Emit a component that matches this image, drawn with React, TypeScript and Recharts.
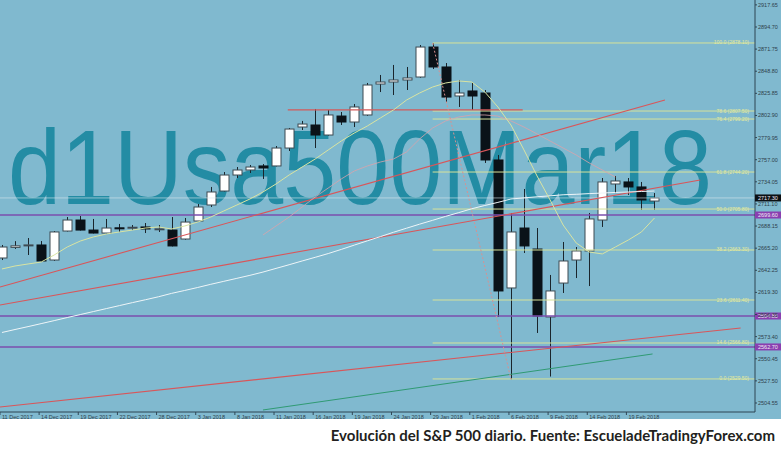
import React from 'react';
import { ComposedChart, Bar, Line, XAxis, YAxis, ReferenceLine, ReferenceDot } from 'recharts';

// daily bars, Usa500Mar18
const dates = [
  '11 Dec 2017', '12 Dec 2017', '13 Dec 2017', '14 Dec 2017', '15 Dec 2017', '18 Dec 2017', '19 Dec 2017',
  '20 Dec 2017', '21 Dec 2017', '22 Dec 2017', '26 Dec 2017', '27 Dec 2017', '28 Dec 2017', '29 Dec 2017',
  '2 Jan 2018', '3 Jan 2018', '4 Jan 2018', '5 Jan 2018', '8 Jan 2018', '9 Jan 2018', '10 Jan 2018',
  '11 Jan 2018', '12 Jan 2018', '15 Jan 2018', '16 Jan 2018', '17 Jan 2018', '18 Jan 2018', '19 Jan 2018',
  '22 Jan 2018', '23 Jan 2018', '24 Jan 2018', '25 Jan 2018', '26 Jan 2018', '29 Jan 2018', '30 Jan 2018',
  '31 Jan 2018', '1 Feb 2018', '2 Feb 2018', '5 Feb 2018', '6 Feb 2018', '7 Feb 2018', '8 Feb 2018',
  '9 Feb 2018', '12 Feb 2018', '13 Feb 2018', '14 Feb 2018', '15 Feb 2018', '16 Feb 2018', '19 Feb 2018',
  '20 Feb 2018', '21 Feb 2018',
];
const opens = [
  2655.0, 2666.0, 2668.2, 2668.5, 2652.9, 2683.0, 2694.4, 2684.0, 2680.9, 2686.3, 2686.5, 2687.2, 2685.0,
  2684.0, 2674.7, 2693.4, 2710.0, 2724.5, 2741.1, 2746.3, 2750.5, 2750.5, 2769.1, 2790.9, 2793.0, 2782.6,
  2802.3, 2796.1, 2803.4, 2835.5, 2837.6, 2839.7, 2842.8, 2873.9, 2853.2, 2823.1, 2828.3, 2826.2, 2756.7,
  2623.9, 2686.1, 2664.3, 2593.8, 2629.0, 2652.9, 2662.3, 2694.4, 2731.8, 2733.9, 2728.7, 2714.1,
];
const highs = [
  2668.5, 2672.5, 2675.7, 2672.6, 2683.0, 2697.5, 2698.6, 2695.5, 2695.5, 2690.3, 2689.2, 2691.3, 2689.2,
  2697.5, 2696.5, 2711.0, 2728.7, 2744.2, 2749.4, 2751.5, 2752.5, 2771.2, 2789.9, 2797.2, 2809.6, 2808.6,
  2806.5, 2814.8, 2836.6, 2844.9, 2855.3, 2853.2, 2876.0, 2878.1, 2857.3, 2839.7, 2837.6, 2829.3, 2761.9,
  2701.7, 2726.6, 2686.1, 2637.4, 2671.6, 2666.4, 2701.7, 2738.0, 2740.1, 2738.0, 2733.9, 2722.4,
];
const lows = [
  2652.9, 2664.4, 2658.1, 2651.0, 2652.0, 2682.5, 2683.5, 2680.5, 2680.5, 2682.0, 2684.0, 2680.9, 2682.0,
  2667.0, 2674.0, 2692.5, 2707.9, 2724.0, 2738.0, 2743.2, 2737.0, 2750.0, 2766.0, 2787.8, 2769.1, 2782.0,
  2793.0, 2790.9, 2802.5, 2827.2, 2824.1, 2829.3, 2842.0, 2851.1, 2816.9, 2811.7, 2808.6, 2753.6, 2593.8,
  2529.2, 2660.2, 2577.2, 2532.0, 2618.7, 2634.2, 2625.9, 2687.2, 2722.4, 2720.4, 2704.8, 2704.8,
];
const closes = [
  2666.4, 2667.6, 2668.6, 2651.9, 2682.0, 2694.4, 2684.0, 2680.9, 2686.1, 2686.0, 2686.9, 2685.1, 2685.3,
  2667.5, 2692.3, 2707.9, 2723.5, 2741.1, 2746.3, 2749.4, 2748.4, 2769.1, 2788.8, 2794.0, 2782.6, 2803.4,
  2796.1, 2811.7, 2834.5, 2837.6, 2839.7, 2841.8, 2873.9, 2853.2, 2822.0, 2826.2, 2823.1, 2756.7, 2620.8,
  2682.0, 2667.5, 2594.8, 2620.8, 2651.9, 2662.3, 2695.5, 2733.9, 2734.9, 2728.7, 2715.2, 2717.3,
];
// moving averages
const maFast = [
  2643.6, 2646.7, 2648.8, 2650.8, 2658.1, 2666.4, 2672.6, 2676.8, 2679.9, 2682.0, 2684.0, 2686.1, 2687.2,
  2685.1, 2688.2, 2692.3, 2697.5, 2703.8, 2710.0, 2716.2, 2723.5, 2731.8, 2741.1, 2749.4, 2757.7, 2767.1,
  2776.4, 2784.7, 2792.0, 2800.3, 2808.6, 2818.9, 2826.2, 2832.4, 2836.6, 2838.7, 2837.6, 2827.2, 2811.7,
  2793.0, 2767.1, 2740.1, 2715.2, 2689.2, 2670.6, 2661.2, 2659.2, 2666.4, 2673.7, 2682.0, 2696.5,
];
const maSlow = [
  2577.7, 2580.8, 2583.8, 2586.9, 2590.0, 2593.2, 2596.3, 2599.4, 2602.5, 2605.6, 2608.7, 2611.7, 2614.8,
  2618.3, 2621.3, 2624.4, 2627.7, 2630.8, 2633.9, 2637.0, 2640.4, 2644.2, 2648.0, 2651.9, 2655.7, 2659.6,
  2663.9, 2668.4, 2672.8, 2677.2, 2681.7, 2685.9, 2690.1, 2694.1, 2698.2, 2702.1, 2706.1, 2709.5, 2712.7,
  2716.2, 2717.4, 2718.5, 2719.5, 2720.6, 2721.1, 2721.8, 2722.4, 2723.0, 2723.5, 2724.0, 2724.5,
];
const maPink = [
  null, null, null, null, null, null, null, null, null, null, null, null, null, null, null, null, null,
  null, null, null, 2678.9, 2688.2, 2697.5, 2707.9, 2718.3, 2727.6, 2737.0, 2745.3, 2750.5, 2754.6, 2757.7,
  2765.0, 2778.5, 2789.9, 2797.2, 2801.3, 2803.4, 2803.4, 2802.3, 2797.2, 2790.9, 2783.7, 2776.4, 2769.1,
  2761.9, 2753.6, 2746.3, 2739.1, null, null, null,
];

const yTicks = [
  2504.55, 2527.5, 2550.45, 2573.4, 2596.35, 2619.3, 2642.25, 2665.2, 2688.15, 2711.1, 2734.05, 2757.0,
  2779.95, 2802.9, 2825.85, 2848.8, 2871.75, 2894.7, 2917.65,
];
const xTicks = [0, 3, 6, 9, 12, 15, 18, 21, 24, 27, 30, 33, 36, 39, 42, 45, 48];

const fibNames = ['100.0', '78.6', '76.4', '61.8', '50.0', '38.2', '23.6', '14.6', '0.0'];
const fibPrices = [2878.1, 2807.5, 2799.2, 2744.2, 2705.8, 2663.3, 2611.4, 2566.8, 2529.5];
const purpleLevels = [2699.6, 2594.8, 2562.7];
const bidPrice = 2717.3;

const X_MIN = -0.15;
const X_MAX = 57.7;
const Y_MIN = 2495.2;
const Y_MAX = 2922.7;

const chartData = dates.map((d, i) => ({
  i,
  date: d,
  open: opens[i],
  high: highs[i],
  low: lows[i],
  close: closes[i],
  range: [lows[i], highs[i]],
  maFast: maFast[i],
  maSlow: maSlow[i],
  maPink: maPink[i],
}));

const Candle = (props: any) => {
  const { x, y, width, height, payload } = props;
  if (!payload || height == null) return null;
  const { open, close, high, low } = payload;
  const top = Math.min(y, y + height);
  const h = Math.abs(height);
  const k = h / (high - low);
  const py = (p: number) => top + (high - p) * k;
  const cx = Math.round(x + width / 2) + 0.5;
  const up = close >= open;
  const bTop = py(Math.max(open, close));
  const bBot = py(Math.min(open, close));
  return (
    <g>
      <line x1={cx} x2={cx} y1={top} y2={top + h} stroke="#1a252c" strokeWidth={1} />
      <rect
        x={cx - 4.5}
        y={bTop}
        width={9}
        height={Math.max(bBot - bTop, 1)}
        fill={up ? '#ffffff' : '#0a1218'}
        stroke={up ? '#3d4a52' : '#0a1218'}
        strokeWidth={1}
      />
    </g>
  );
};

const YTick = (props: any) => {
  const { x, y, payload } = props;
  return (
    <g>
      <line x1={x} x2={x + 2} y1={y} y2={y} stroke="#2f4756" />
      <text x={x + 3} y={y + 2} fontSize={5.5} fill="#2e3f4a" fontFamily="Liberation Sans, Arial">
        {payload.value.toFixed(2)}
      </text>
    </g>
  );
};

const XTick = (props: any) => {
  const { x, y, payload } = props;
  return (
    <g>
      <line x1={x - 2} x2={x - 2} y1={y} y2={y + 3} stroke="#2f4756" />
      <text x={x} y={y + 7} fontSize={5.5} fill="#2e3f4a" fontFamily="Liberation Sans, Arial">
        {dates[payload.value]}
      </text>
    </g>
  );
};

const AxisBox = ({ cx, cy, fill, label }: any) => (
  <g>
    <rect x={cx} y={cy - 3.5} width={26} height={7} fill={fill} />
    <text x={cx + 3} y={cy + 2} fontSize={5.5} fill="#f0eaf5" fontFamily="Liberation Sans, Arial">
      {label}
    </text>
  </g>
);

export default function App() {
  return (
    <div style={{ position: 'absolute', left: 0, top: 0, width: 781, height: 455, background: '#ffffff' }}>
      <div style={{ position: 'absolute', left: 0, top: 0, width: 781, height: 419, background: '#80b9cf' }} />
      <svg width={781} height={419} style={{ position: 'absolute', left: 0, top: 0 }}>
        <text
          x={8}
          y={204}
          fontSize={105}
          fill="#238ca4"
          fontFamily="Liberation Sans, Arial, sans-serif"
          textLength={704}
          lengthAdjust="spacingAndGlyphs"
        >
          d1Usa500Mar18
        </text>
      </svg>
      <div style={{ position: 'absolute', left: 0, top: 0 }}>
        <ComposedChart width={781} height={420} data={chartData} margin={{ top: 0, right: 0, left: 0, bottom: 0 }}>
          <XAxis
            dataKey="i"
            type="number"
            domain={[X_MIN, X_MAX]}
            ticks={xTicks}
            allowDataOverflow
            height={8}
            tickSize={0}
            tickMargin={0}
            tickLine={false}
            axisLine={{ stroke: '#2c4553' }}
            tick={<XTick />}
            interval={0}
          />
          <YAxis
            orientation="right"
            type="number"
            domain={[Y_MIN, Y_MAX]}
            ticks={yTicks}
            allowDataOverflow
            width={26}
            tickSize={0}
            tickMargin={0}
            tickLine={false}
            axisLine={{ stroke: '#2c4553' }}
            tick={<YTick />}
            interval={0}
          />

          {/* horizontal levels */}
          {purpleLevels.map((p, k) => (
            <ReferenceLine key={`pl-${k}`} y={p} stroke="#7b4fae" strokeWidth={1.6} ifOverflow="hidden" />
          ))}
          <ReferenceLine y={bidPrice} stroke="#d8e6ee" strokeWidth={0.6} ifOverflow="hidden" />
          {fibPrices.map((p, k) => (
            <ReferenceLine
              key={`fib-${k}`}
              segment={[{ x: 33, y: p }, { x: X_MAX, y: p }]}
              stroke="#d6e29a"
              strokeWidth={1}
              ifOverflow="hidden"
            />
          ))}
          <ReferenceLine
            segment={[{ x: 21.9, y: 2808.6 }, { x: 39.9, y: 2808.6 }]}
            stroke="#d45a5a"
            strokeWidth={1.2}
            ifOverflow="hidden"
          />

          {/* trend lines */}
          <ReferenceLine segment={[{ x: X_MIN, y: 2624.9 }, { x: 50.8, y: 2818.9 }]} stroke="#d8565a" strokeWidth={1.1} ifOverflow="hidden" />
          <ReferenceLine segment={[{ x: X_MIN, y: 2606.2 }, { x: 53.5, y: 2735.9 }]} stroke="#d8565a" strokeWidth={1.1} ifOverflow="hidden" />
          <ReferenceLine segment={[{ x: X_MIN, y: 2500.4 }, { x: 56.6, y: 2582.4 }]} stroke="#d8565a" strokeWidth={1.1} ifOverflow="hidden" />
          <ReferenceLine segment={[{ x: 20, y: 2497.3 }, { x: 49.85, y: 2555.4 }]} stroke="#2f9a73" strokeWidth={1} ifOverflow="hidden" />
          <ReferenceLine segment={[{ x: 33, y: 2878.1 }, { x: 39, y: 2529.2 }]} stroke="#d99090" strokeWidth={1} strokeDasharray="2 2" ifOverflow="hidden" />

          <Line dataKey="maPink" stroke="#d9a3ab" strokeWidth={1} dot={false} activeDot={false} isAnimationActive={false} connectNulls={false} strokeOpacity={0.8} />
          <Line dataKey="maSlow" stroke="#eef5f8" strokeWidth={1} dot={false} activeDot={false} isAnimationActive={false} />
          <Line dataKey="maFast" stroke="#d9e4a2" strokeWidth={1} dot={false} activeDot={false} isAnimationActive={false} />

          <Bar dataKey="range" barSize={9} shape={<Candle />} activeBar={false} isAnimationActive={false} />

          {fibPrices.map((p, k) => (
            <ReferenceDot
              key={`fibl-${k}`}
              x={X_MAX}
              y={p}
              r={0}
              ifOverflow="visible"
              shape={(s: any) => (
                <text x={s.cx - 6} y={s.cy + 1.5} textAnchor="end" fontSize={5} fill="#e4ea9c" fontFamily="Liberation Sans, Arial">
                  {`${fibNames[k]} (${p.toFixed(2)})`}
                </text>
              )}
            />
          ))}
          {purpleLevels.map((p, k) => (
            <ReferenceDot
              key={`plb-${k}`}
              x={X_MAX}
              y={p}
              r={0}
              ifOverflow="visible"
              shape={(s: any) => <AxisBox cx={s.cx} cy={s.cy} fill="#8a3fb0" label={p.toFixed(2)} />}
            />
          ))}
          <ReferenceDot
            x={X_MAX}
            y={bidPrice}
            r={0}
            ifOverflow="visible"
            shape={(s: any) => <AxisBox cx={s.cx} cy={s.cy} fill="#0b1014" label={bidPrice.toFixed(2)} />}
          />
        </ComposedChart>
      </div>
      <div
        style={{
          position: 'absolute',
          right: 6,
          top: 426,
          fontFamily: 'Lato, "Open Sans", sans-serif',
          fontWeight: 700,
          fontSize: 15,
          color: '#231f20',
          whiteSpace: 'nowrap',
        }}
      >
        Evolución del S&amp;P 500 diario. Fuente: EscueladeTradingyForex.com
      </div>
    </div>
  );
}
